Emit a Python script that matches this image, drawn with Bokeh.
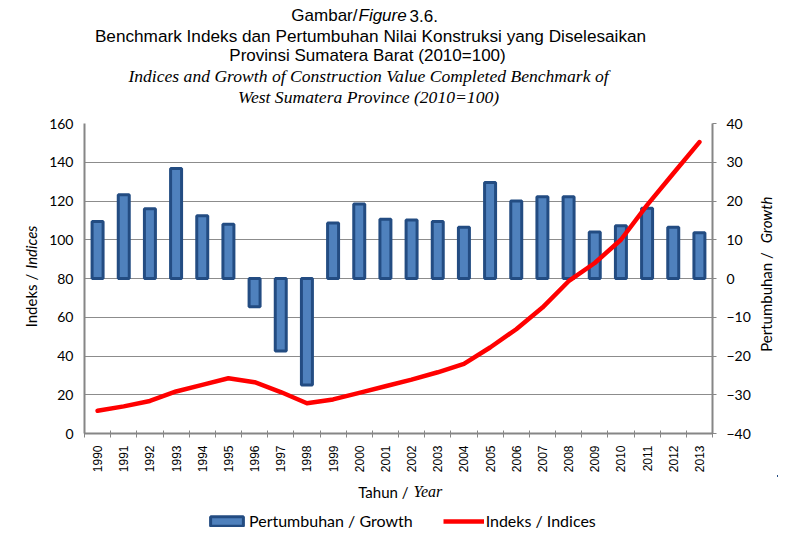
import math
from bokeh.plotting import figure
from bokeh.layouts import column, row
from bokeh.models import (Range1d, LinearAxis, FixedTicker, Label, Legend,
                          LegendItem, ColumnDataSource)
from bokeh.embed import file_html
from bokeh.resources import INLINE

# ---------------- data ----------------
years = ["1990", "1991", "1992", "1993", "1994", "1995", "1996", "1997",
         "1998", "1999", "2000", "2001", "2002", "2003", "2004", "2005",
         "2006", "2007", "2008", "2009", "2010", "2011", "2012", "2013"]
growth = [14.7, 21.6, 18.0, 28.4, 16.2, 14.0, -7.3, -18.7, -27.5, 14.3,
          19.2, 15.3, 15.1, 14.7, 13.2, 24.8, 20.0, 21.1, 21.1, 12.0,
          13.6, 18.1, 13.2, 11.8]
indices = [11.7, 14.0, 16.8, 21.7, 25.1, 28.5, 26.5, 21.4, 15.6, 17.6,
           21.0, 24.4, 27.8, 31.6, 35.9, 44.4, 53.8, 65.0, 78.6, 88.0,
           100.0, 117.9, 134.2, 150.4]
left_ticks = [0, 20, 40, 60, 80, 100, 120, 140, 160]
right_ticks = [-40, -30, -20, -10, 0, 10, 20, 30, 40]

BAR_FILL = "#4F81BD"
BAR_LINE = "#234C82"
RED = "#FF0000"
AX = "#868686"

W, H = 778, 536
TOP_H = 110          # title strip
MID_H = 365          # chart strip
BOT_H = H - TOP_H - MID_H
LEFT_W = 46
RIGHT_W = 24
MAIN_W = W - LEFT_W - RIGHT_W

pos = list(range(len(years)))
src = ColumnDataSource(dict(x=pos, growth=growth, idx=indices))


def blank(width, height, x0, x1, y_top, y_bot):
    f = figure(width=width, height=height, output_backend="svg",
               toolbar_location=None, x_range=Range1d(x0, x1),
               y_range=Range1d(y_bot, y_top), x_axis_location=None,
               y_axis_location=None, min_border=0)
    f.min_border_left = f.min_border_right = 0
    f.min_border_top = f.min_border_bottom = 0
    f.grid.visible = False
    f.outline_line_color = None
    f.background_fill_color = "white"
    f.border_fill_color = "white"
    return f


def lab(f, text, x, y, size, font="Liberation Sans", style="normal",
        align="left", angle=0.0):
    f.add_layout(Label(x=x, y=y, text=text, text_font=font,
                       text_font_size=f"{size}px", text_font_style=style,
                       text_align=align, text_baseline="middle", angle=angle,
                       text_color="#000000"))


# ---------------- title strip (coords = page pixels) ----------------
top = blank(W, TOP_H, 0, W, 0, TOP_H)
lab(top, "Gambar/", 357, 15, 17, align="right")
lab(top, "Figure", 358, 15, 17, style="italic")
lab(top, "3.6.", 409, 15, 17)
lab(top, "Benchmark Indeks dan Pertumbuhan Nilai Konstruksi yang Diselesaikan",
    370, 35, 17.2, align="center")
lab(top, "Provinsi Sumatera Barat (2010=100)", 367, 55, 17, align="center")
lab(top, "Indices and Growth of Construction Value Completed Benchmark of",
    368, 75, 17.6, font="Liberation Serif", style="italic", align="center")
lab(top, "West Sumatera Province (2010=100)", 368, 96, 17.6,
    font="Liberation Serif", style="italic", align="center")

# ---------------- left / right title strips ----------------
left = blank(LEFT_W, MID_H, 0, LEFT_W, TOP_H, TOP_H + MID_H)
lab(left, "Indeks /", 30, 287, 15, font="Lato", align="right",
    angle=math.pi / 2)
lab(left, "Indices", 30, 281, 15, font="Lato", style="italic",
    angle=math.pi / 2)

right = blank(RIGHT_W, MID_H, W - RIGHT_W, W, TOP_H, TOP_H + MID_H)
lab(right, "Pertumbuhan  /", 765, 257, 15, font="Lato", align="right",
    angle=math.pi / 2)
lab(right, "Growth", 765, 251, 15, font="Lato", style="italic",
    angle=math.pi / 2)

# ---------------- main chart ----------------
p = figure(width=MAIN_W, height=MID_H, output_backend="svg",
           toolbar_location=None,
           x_range=Range1d(-0.5, len(years) - 0.5), y_range=Range1d(0, 160),
           min_border_left=84 - LEFT_W, min_border_right=LEFT_W + MAIN_W - 712,
           min_border_top=123 - TOP_H, min_border_bottom=TOP_H + MID_H - 435)
p.outline_line_color = None
p.background_fill_color = "white"
p.border_fill_color = "white"
p.extra_y_ranges = {"growth": Range1d(-40, 40)}

xa = p.xaxis[0]
xa.ticker = FixedTicker(ticks=pos,
                        minor_ticks=[i - 0.5 for i in range(len(years) + 1)])
xa.major_label_overrides = {i: y for i, y in enumerate(years)}
xa.major_label_orientation = math.pi / 2
xa.major_label_text_font = "Liberation Sans"
xa.major_label_text_font_size = "12px"
xa.major_label_text_color = "#000000"
xa.major_tick_line_color = None
xa.major_tick_out = 0
xa.major_tick_in = 0
xa.minor_tick_line_color = AX
xa.minor_tick_in = 3
xa.minor_tick_out = 4
xa.major_label_standoff = 8
xa.axis_line_color = AX
xa.axis_line_width = 2

ya = p.yaxis[0]
ya.ticker = FixedTicker(ticks=left_ticks)
ya.minor_tick_line_color = None
ya.major_tick_out = 0
ya.major_tick_in = 0
ya.major_label_standoff = 11
ya.major_label_text_font = "Lato"
ya.major_label_text_font_size = "14px"
ya.major_label_text_color = "#000000"
ya.axis_line_color = AX
ya.axis_line_width = 2

ra = LinearAxis(y_range_name="growth", ticker=FixedTicker(ticks=right_ticks))
ra.minor_tick_line_color = None
ra.major_tick_out = 4
ra.major_tick_in = 0
ra.major_tick_line_color = AX
ra.major_label_standoff = 10
ra.major_label_text_font = "Lato"
ra.major_label_text_font_size = "14px"
ra.major_label_text_color = "#000000"
ra.axis_line_color = AX
ra.axis_line_width = 2
p.add_layout(ra, "right")

p.xgrid.visible = False
p.ygrid.ticker = FixedTicker(ticks=left_ticks)
p.ygrid.grid_line_color = "#8c8c8c"
p.ygrid.grid_line_width = 1

bars = p.vbar(x="x", top="growth", bottom=0, width=0.42, source=src,
              y_range_name="growth", fill_color=BAR_FILL,
              line_color=BAR_LINE, line_width=3)
line = p.line(x="x", y="idx", source=src, line_color=RED,
              line_width=4.5, line_cap="round", line_join="round")

# ---------------- bottom strip: x title + legend ----------------
bot = blank(W, BOT_H, 0, W, TOP_H + MID_H, H)
lab(bot, "Tahun /", 408, 491, 15, font="Lato", align="right")
lab(bot, "Year", 413, 491, 16, font="Liberation Serif", style="italic")

# legend keys: the same series, mapped through ranges that put them far
# outside this strip (beyond its top-right corner), so only the swatches show
bot.extra_x_ranges = {"off": Range1d(-5000, -4000)}
bot.extra_y_ranges = {"off": Range1d(-5000, -4000)}
lg_bar = bot.vbar(x="x", top="growth", bottom=0, width=0.42, source=src,
                  x_range_name="off", y_range_name="off",
                  fill_color=BAR_FILL, line_color=BAR_LINE, line_width=3)
lg_line = bot.line(x="x", y="idx", source=src, x_range_name="off",
                   y_range_name="off", line_color=RED, line_width=4.5)
leg = Legend(items=[LegendItem(label="Pertumbuhan / Growth",
                               renderers=[lg_bar]),
                    LegendItem(label="Indeks / Indices",
                               renderers=[lg_line])],
             location=(206, 6), orientation="horizontal",
             glyph_width=41, glyph_height=12, label_standoff=2, spacing=30,
             padding=0, margin=0, border_line_color=None,
             background_fill_alpha=0, label_text_font="Lato",
             label_text_font_size="16px", label_height=16,
             label_text_color="#000000")
bot.add_layout(leg)

layout = column(top, row(left, p, right, spacing=0), bot, spacing=0)
open("out.html", "w").write(file_html(layout, INLINE))
